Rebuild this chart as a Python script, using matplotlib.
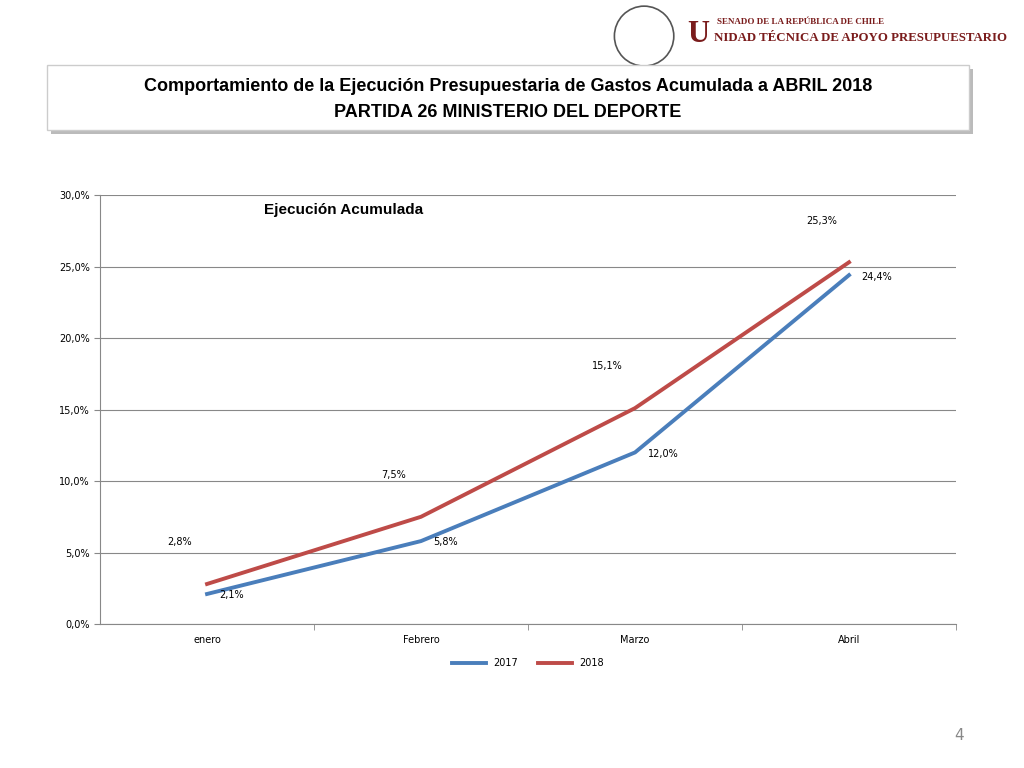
import matplotlib
matplotlib.use("Agg")
import matplotlib.pyplot as plt
from matplotlib.patches import Rectangle, Ellipse

months = ["enero", "Febrero", "Marzo", "Abril"]
s2017 = [2.1, 5.8, 12.0, 24.4]
s2018 = [2.8, 7.5, 15.1, 25.3]
yticks = [0, 5, 10, 15, 20, 25, 30]

fig = plt.figure(figsize=(10.24, 7.68), dpi=100)
fig.patch.set_facecolor("white")

# Header
fig.text(0.700, 0.972, "SENADO DE LA REPÚBLICA DE CHILE", fontsize=6.5, family="Liberation Serif",
         color="#7a1c1c", va="center", fontweight="bold")
fig.text(0.671, 0.955, "U", fontsize=22, family="Liberation Serif", color="#7a1c1c", va="center", fontweight="bold")
fig.text(0.697, 0.951, "NIDAD TÉCNICA DE APOYO PRESUPUESTARIO", fontsize=9.3, family="Liberation Serif",
         color="#7a1c1c", va="center", fontweight="bold")
fig.patches.append(Ellipse((0.629, 0.953), 0.058, 0.078, transform=fig.transFigure, fill=False, ec="#555", lw=1.2))

# Title box with shadow
fig.patches.append(Rectangle((0.050, 0.825), 0.900, 0.085, transform=fig.transFigure,
                             fc="#bbbbbb", ec="none", zorder=0))
fig.patches.append(Rectangle((0.046, 0.831), 0.900, 0.085, transform=fig.transFigure,
                             fc="white", ec="#cccccc", lw=1, zorder=1))
fig.text(0.496, 0.888, "Comportamiento de la Ejecución Presupuestaria de Gastos Acumulada a ABRIL 2018",
         ha="center", va="center", fontsize=13, fontweight="bold", family="Liberation Sans", zorder=2)
fig.text(0.496, 0.853, "PARTIDA 26 MINISTERIO DEL DEPORTE", ha="center", va="center",
         fontsize=13, fontweight="bold", family="Liberation Sans", zorder=2)

ax = fig.add_axes([0.0977, 0.1875, 0.8359, 0.5585])
x = list(range(len(months)))
ax.plot(x, s2017, color="#4a7ebb", lw=2.8, label="2017")
ax.plot(x, s2018, color="#be4b48", lw=2.8, label="2018")
for i, v in enumerate(s2017):
    ax.annotate(f"{v:.1f}%".replace(".", ","), (i, v), xytext=(9, -1), textcoords="offset points",
                fontsize=7, ha="left", va="center")
for i, v in enumerate(s2018):
    ax.annotate(f"{v:.1f}%".replace(".", ","), (i, v), xytext=(-20, 30), textcoords="offset points",
                fontsize=7, ha="center", va="center")
ax.set_xlim(-0.5, 3.5)
ax.set_ylim(0, 30)
ax.set_yticks(yticks)
ax.set_yticklabels([f"{t:.1f}%".replace(".", ",") for t in yticks], fontsize=7)
ax.set_xticks(x)
ax.set_xticklabels(months, fontsize=7)
ax.set_xticks([0.5, 1.5, 2.5, 3.5], minor=True)
ax.tick_params(axis="x", which="major", length=0, pad=8)
ax.tick_params(axis="x", which="minor", length=4, color="#888")
ax.tick_params(axis="y", length=4, color="#888")
ax.grid(axis="y", color="#888", lw=0.8)
for s in ["top", "right"]:
    ax.spines[s].set_visible(False)
for s in ["left", "bottom"]:
    ax.spines[s].set_color("#888")
ax.text(0.191, 0.965, "Ejecución Acumulada", transform=ax.transAxes, fontsize=11,
        fontweight="bold", family="Liberation Sans", va="center")
ax.legend(loc="upper center", bbox_to_anchor=(0.5, -0.06), ncol=2, frameon=False, fontsize=7,
          handlelength=3.5)

fig.text(0.932, 0.037, "4", fontsize=11, color="#888")
fig.savefig("out.png", dpi=100)
